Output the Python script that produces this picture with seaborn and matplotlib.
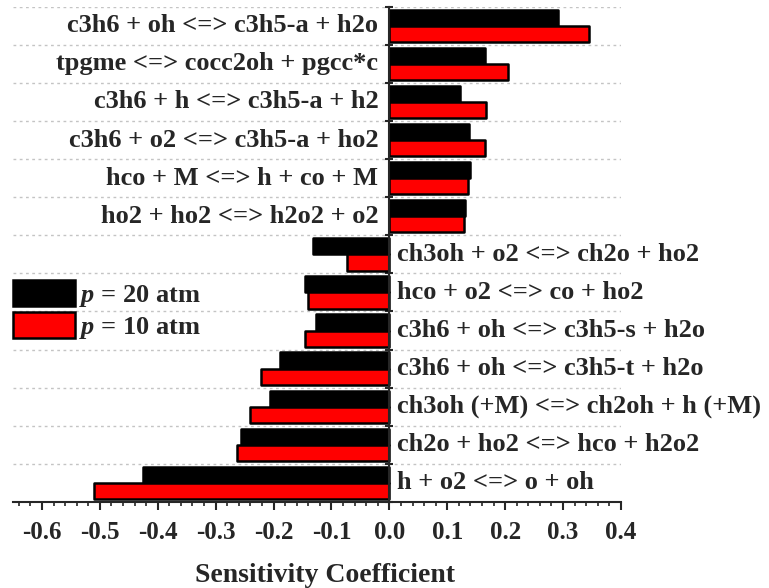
import matplotlib
matplotlib.use("Agg")
import matplotlib.pyplot as plt
from matplotlib.ticker import MultipleLocator, FormatStrFormatter
import numpy as np
import pandas as pd
import seaborn as sns

# Reactions, listed top to bottom
reactions = [
    "c3h6 + oh <=> c3h5-a + h2o",
    "tpgme <=> cocc2oh + pgcc*c",
    "c3h6 + h <=> c3h5-a + h2",
    "c3h6 + o2 <=> c3h5-a + ho2",
    "hco + M <=> h + co + M",
    "ho2 + ho2 <=> h2o2 + o2",
    "ch3oh + o2 <=> ch2o + ho2",
    "hco + o2 <=> co + ho2",
    "c3h6 + oh <=> c3h5-s + h2o",
    "c3h6 + oh <=> c3h5-t + h2o",
    "ch3oh (+M) <=> ch2oh + h (+M)",
    "ch2o + ho2 <=> hco + h2o2",
    "h + o2 <=> o + oh",
]
sens_20atm = [0.291, 0.166, 0.122, 0.137, 0.140, 0.131,
              -0.132, -0.145, -0.126, -0.189, -0.206, -0.257, -0.425]
sens_10atm = [0.345, 0.205, 0.167, 0.166, 0.135, 0.129,
              -0.073, -0.141, -0.146, -0.222, -0.241, -0.263, -0.510]
series_labels = ["$p$ = 20 atm", "$p$ = 10 atm"]
bar_colors = ["#000000", "#ff0000"]

sns.set_style("white")
plt.rcParams["font.family"] = ["Liberation Serif", "DejaVu Serif"]
plt.rcParams["font.weight"] = "bold"
plt.rcParams["axes.unicode_minus"] = False
plt.rcParams["mathtext.fontset"] = "custom"
plt.rcParams["mathtext.it"] = "Liberation Serif:italic:bold"
plt.rcParams["mathtext.rm"] = "Liberation Serif:bold"

df = pd.DataFrame({
    "reaction": reactions * 2,
    "coef": sens_20atm + sens_10atm,
    "pressure": [series_labels[0]] * len(reactions) + [series_labels[1]] * len(reactions),
})

fig = plt.figure(figsize=(7.69, 5.88), dpi=100)
ax = fig.add_axes([0.0169, 0.1463, 0.7906, 0.8423])

sns.barplot(data=df, y="reaction", x="coef", hue="pressure", orient="h",
            palette=bar_colors, saturation=1, edgecolor="black", linewidth=1.8,
            width=0.85, ax=ax, legend=True)
for p in ax.patches:
    p.set_joinstyle("round")

ax.set_xlim(-0.65, 0.4)
ax.set_ylim(len(reactions) - 0.5, -0.5)

# x axis
ax.xaxis.set_major_locator(MultipleLocator(0.1))
ax.xaxis.set_minor_locator(MultipleLocator(0.02))
ax.xaxis.set_major_formatter(FormatStrFormatter("%.1f"))
ax.tick_params(axis="x", which="major", direction="out", length=5.5, width=1.5,
               labelsize=18, pad=8, bottom=True)
ax.tick_params(axis="x", which="minor", direction="out", length=3, width=1.2,
               bottom=True)
for lab in ax.get_xticklabels():
    lab.set_fontweight("bold")
ax.set_xlabel("Sensitivity Coefficient", fontsize=20, fontweight="bold")
ax.xaxis.set_label_coords(0.513, -0.123)
ax.set_ylabel("")

# y axis at zero with ticks on category boundaries
ax.spines["left"].set_position(("data", 0))
ax.spines["left"].set_linewidth(1.5)
ax.spines["bottom"].set_linewidth(1.5)
ax.spines["top"].set_visible(False)
ax.spines["right"].set_visible(False)
ax.set_yticks(np.arange(-0.5, len(reactions), 1.0))
ax.set_yticklabels([])
ax.tick_params(axis="y", direction="inout", length=6, width=1.5, left=True)
ax.grid(axis="y", linestyle=(0, (2, 2.5)), color="#c4c4c4", linewidth=1.0)
ax.grid(axis="x", visible=False)
ax.set_axisbelow(True)

# reaction names beside the zero line
for i, (name, a, b) in enumerate(zip(reactions, sens_20atm, sens_10atm)):
    if a + b > 0:
        ax.text(-0.019, i, name, ha="right", va="center", fontsize=19, fontweight="bold")
    else:
        ax.text(0.014, i, name, ha="left", va="center", fontsize=19, fontweight="bold")

handles, labels = ax.get_legend_handles_labels()
ax.legend(handles, labels, loc="center left", bbox_to_anchor=(0.0, 0.3866),
          frameon=False, borderpad=0, borderaxespad=0, handlelength=2.35,
          handleheight=1.17, labelspacing=0.11, handletextpad=0.15,
          prop={"family": "Liberation Serif", "weight": "bold", "size": 19})

fig.savefig("out.png", dpi=100)
